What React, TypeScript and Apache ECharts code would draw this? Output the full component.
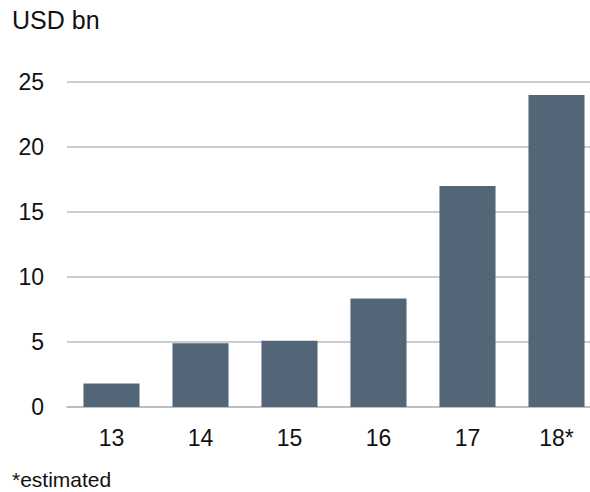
import React, { useEffect, useRef } from "react";
import * as echarts from "echarts";

const categories = ["13", "14", "15", "16", "17", "18*"];
const values = [1.8, 4.9, 5.1, 8.35, 17.0, 24.0];
const yTicks = { min: 0, max: 25, interval: 5 };
const unitLabel = "USD bn";
const footnote = "*estimated";

const FONT = "'Liberation Sans', Arial, Helvetica, sans-serif";

export default function App() {
  const ref = useRef<HTMLDivElement>(null);
  useEffect(() => {
    if (!ref.current) return;
    const chart = echarts.init(ref.current, undefined, { renderer: "svg" });
    chart.setOption({
      animation: false,
      backgroundColor: "#ffffff",
      textStyle: { fontFamily: FONT },
      grid: { left: 67, right: 0, top: 82, bottom: 85, containLabel: false },
      xAxis: {
        type: "category",
        data: categories,
        axisLine: { show: true, lineStyle: { color: "#b8b8b8", width: 1.5 } },
        axisTick: { show: false },
        axisLabel: { color: "#111", fontSize: 23, margin: 19, fontFamily: FONT },
      },
      yAxis: {
        type: "value",
        min: yTicks.min,
        max: yTicks.max,
        interval: yTicks.interval,
        axisLine: { show: false },
        axisTick: { show: false },
        axisLabel: { color: "#111", fontSize: 23, margin: 23, fontFamily: FONT },
        splitLine: { lineStyle: { color: "#bdbdbd", width: 1.5 } },
      },
      graphic: [
        {
          type: "text",
          left: 12,
          top: 7,
          style: { text: unitLabel, fontSize: 25, fill: "#111", fontFamily: FONT },
        },
        {
          type: "text",
          left: 12,
          top: 469,
          style: { text: footnote, fontSize: 21, fill: "#111", fontFamily: FONT },
        },
      ],
      series: [
        {
          type: "bar",
          data: values,
          barWidth: "63%",
          itemStyle: { color: "#536677" },
        },
      ],
    });
    return () => chart.dispose();
  }, []);
  return (
    <div
      style={{
        position: "fixed",
        left: 0,
        top: 0,
        width: 590,
        height: 492,
        overflow: "hidden",
        background: "#fff",
      }}
    >
      <div ref={ref} style={{ width: 601, height: 492 }} />
    </div>
  );
}
